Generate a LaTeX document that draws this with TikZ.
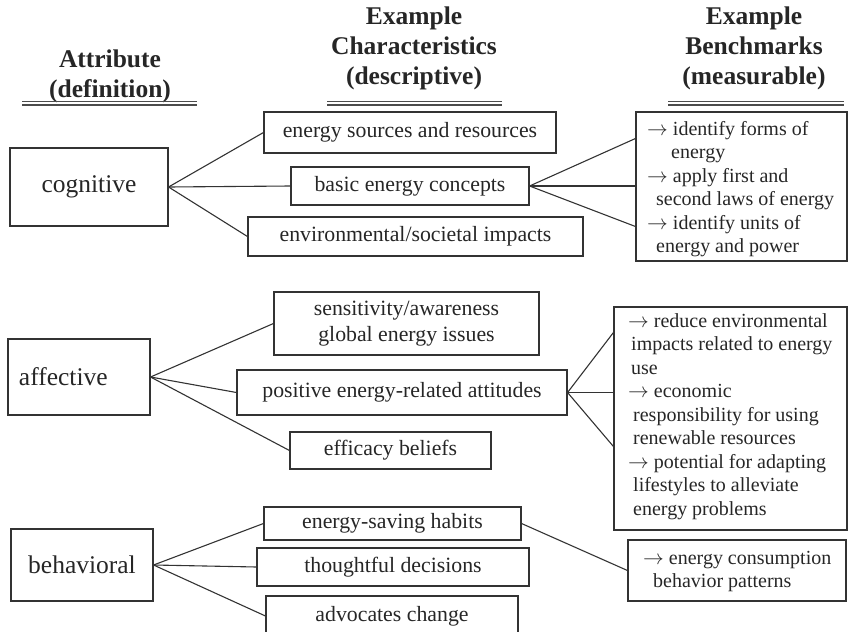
\documentclass[tikz,border=0pt]{standalone}
\usepackage{fontspec}
\setmainfont{Liberation Serif}
\usetikzlibrary{calc}
\newcommand{\bullarrow}{$\rightarrow$}
\begin{document}
\begin{tikzpicture}[x=1pt,y=-1pt,
  box/.style={draw=black!80, line width=1.1pt, inner sep=0pt, text=black!85},
  attr/.style={box, font=\fontsize{25.5}{30}\selectfont},
  charbox/.style={box, align=center, font=\fontsize{21.8}{26.5}\selectfont},
  benchtext/.style={inner sep=0pt, anchor=north west, align=left, text=black!85,
                    font=\fontsize{20}{23.5}\selectfont},
  head/.style={align=center, text=black!85, font=\bfseries\fontsize{25.5}{30}\selectfont},
  link/.style={draw=black!80, line width=1.1pt},
  rule/.style={draw=black!70, line width=1.3pt}
]
\useasboundingbox (0,0) rectangle (849,632);
\clip (0,0) rectangle (849,632);

% column headings with double rules
\node[head] (h1) at (110,76) {Attribute\\(definition)};
\node[head] (h2) at (414,48) {Example\\Characteristics\\(descriptive)};
\node[head] (h3) at (754,48) {Example\\Benchmarks\\(measurable)};
\foreach \a/\b in {22/197, 327/502, 668/844}{
  \draw[rule] (\a,101.5) -- (\b,101.5);
  \draw[rule] (\a,105) -- (\b,105);
}

% cognitive
\node[attr, minimum width=158pt, minimum height=78pt] (cog) at (89,187) {cognitive};
\node[charbox, minimum width=292pt, minimum height=41pt] (es) at (410,132.5) {energy sources and resources};
\node[charbox, minimum width=238pt, minimum height=38pt] (bec) at (410,186) {basic energy concepts};
\node[charbox, minimum width=335pt, minimum height=39pt] (env) at (415.5,236.5) {environmental/societal impacts};
\node[box, minimum width=211pt, minimum height=149pt] (cb) at (741.5,186.5) {};
\node[benchtext] (cbt) at (647,121) {\bullarrow{} identify forms of\\\hspace*{24pt}energy\\\bullarrow{} apply first and\\\hspace*{9pt}second laws of energy\\\bullarrow{} identify units of\\\hspace*{9pt}energy and power};

\draw[link] (cog.east) -- (es.west);
\draw[link] (cog.east) -- (bec.west);
\draw[link] (cog.east) -- (env.west);
\draw[link] (bec.east) -- ([yshift=48pt]cb.west);
\draw[link] (bec.east) -- (cb.west |- bec.east);
\draw[link] (bec.east) -- ([yshift=-40pt]cb.west);

% affective
\node[attr, minimum width=142pt, minimum height=76pt, text width=120pt, inner xsep=11pt, align=left] (aff) at (79,377) {affective};
\node[charbox, minimum width=265pt, minimum height=63pt] (sens) at (406.5,323.5) {sensitivity/awareness\\global energy issues};
\node[charbox, minimum width=330pt, minimum height=45pt] (pos) at (402,392.5) {positive energy-related attitudes};
\node[charbox, minimum width=201pt, minimum height=37pt] (eff) at (390.5,450.5) {efficacy beliefs};
\node[box, minimum width=233pt, minimum height=223pt] (ab) at (730.5,418.5) {};
\node[benchtext] (abt) at (628,313) {\bullarrow{} reduce environmental\\\hspace*{3pt}impacts related to energy\\\hspace*{3pt}use\\\bullarrow{} economic\\\hspace*{5pt}responsibility for using\\\hspace*{5pt}renewable resources\\\bullarrow{} potential for adapting\\\hspace*{5pt}lifestyles to alleviate\\\hspace*{5pt}energy problems};

\draw[link] (aff.east) -- (sens.west);
\draw[link] (aff.east) -- (pos.west);
\draw[link] (aff.east) -- (eff.west);
\draw[link] (pos.east) -- ([yshift=86pt]ab.west);
\draw[link] (pos.east) -- (ab.west |- pos.east);
\draw[link] (pos.east) -- ([yshift=-28pt]ab.west);

% behavioral
\node[attr, minimum width=142pt, minimum height=72pt] (beh) at (82,565) {behavioral};
\node[charbox, minimum width=257pt, minimum height=33pt] (hab) at (392.5,523.5) {energy-saving habits};
\node[charbox, minimum width=272pt, minimum height=38pt] (tho) at (393,567) {thoughtful decisions};
\node[charbox, minimum width=252pt, minimum height=40pt] (adv) at (392,616) {advocates change};
\node[box, minimum width=218pt, minimum height=61pt] (bb) at (737,570.5) {};
\node[benchtext] (bbt) at (643,551) {\bullarrow{} energy consumption\\\hspace*{10pt}behavior patterns};

\draw[link] (beh.east) -- (hab.west);
\draw[link] (beh.east) -- (tho.west);
\draw[link] (beh.east) -- (adv.west);
\draw[link] (hab.east) -- (bb.west);
\end{tikzpicture}
\end{document}
